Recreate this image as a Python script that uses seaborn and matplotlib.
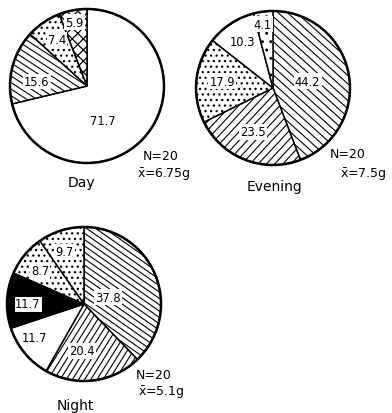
import numpy as np
import matplotlib.pyplot as plt
from matplotlib.collections import LineCollection
import seaborn as sns

# share of diet (%) per time of day, clockwise from 12 o'clock
day_vals = [71.7, 15.6, 7.4, 5.9]
day_labels = ['71.7', '15.6', '7.4', '5.9']
evening_vals = [44.2, 23.5, 17.9, 10.3, 4.1]
evening_labels = ['44.2', '23.5', '17.9', '10.3', '4.1']
night_vals = [37.8, 20.4, 11.7, 11.7, 8.7, 9.7]
night_labels = ['37.8', '20.4', '11.7', '11.7', '8.7', '9.7']

titles = ['Day', 'Evening', 'Night']
n_fish = [20, 20, 20]
mean_wt = ['6.75', '7.5', '5.1']

sns.set_style('white')
plt.rcParams['font.family'] = ['DejaVu Sans']
plt.rcParams['text.color'] = 'black'
plt.rcParams['hatch.linewidth'] = 0.9


def line_hatch(ax, wedge, angle, spacing, lw=0.8):
    # parallel lines at any angle, clipped to the wedge
    cx, cy = wedge.center
    r = wedge.r
    t = np.deg2rad(angle)
    d = np.array([np.cos(t), np.sin(t)])
    n = np.array([-d[1], d[0]])
    segs = []
    for o in np.arange(-r, r + spacing, spacing):
        p = np.array([cx, cy]) + o * n
        segs.append([p - r * d, p + r * d])
    lc = LineCollection(segs, colors='black', linewidths=lw)
    lc.set_clip_path(wedge)
    ax.add_collection(lc)


W, H = 392, 414
fig = plt.figure(figsize=(W / 100, H / 100), dpi=100)
ax = fig.add_axes([0, 0, 1, 1])

R = 77
pies = [
    dict(vals=day_vals, labels=day_labels, center=(87, 87),
         colors=['white', 'white', 'white', 'white'],
         hatch=['', '', '...', 'xxx'],
         lines=[None, (-33, 5.5), None, None],
         lab_off=[(0.21, -0.45), (-0.65, 0.06), (-0.39, 0.60), (-0.16, 0.83)],
         title_xy=(81, 183), n_xy=(161, 157), m_xy=(164, 175)),
    dict(vals=evening_vals, labels=evening_labels, center=(273, 89),
         colors=['white'] * 5,
         hatch=['', '', '...', '', '..'],
         lines=[(-42, 6.2), (47, 6.0), None, None, None],
         lab_off=[(0.45, 0.09), (-0.26, -0.57), (-0.66, 0.09), (-0.40, 0.60), (-0.13, 0.83)],
         title_xy=(275, 187), n_xy=(348, 155), m_xy=(363, 175)),
    dict(vals=night_vals, labels=night_labels, center=(84, 305),
         colors=['white', 'white', 'white', 'black', 'white', 'white'],
         hatch=['', '', '', '', '...', '...'],
         lines=[(-35, 5.2), (58, 5.2), None, None, None, None],
         lab_off=[(0.31, 0.09), (-0.03, -0.61), (-0.64, -0.43), (-0.73, 0.0), (-0.57, 0.43), (-0.25, 0.68)],
         title_xy=(75, 406), n_xy=(154, 376), m_xy=(161, 393)),
]

for i, p in enumerate(pies):
    cx, cy = p['center'][0], H - p['center'][1]
    wedges, _ = ax.pie(p['vals'], colors=p['colors'], hatch=p['hatch'], startangle=90,
                       counterclock=False, center=(cx, cy), radius=R,
                       wedgeprops=dict(edgecolor='black', linewidth=1.1))
    for w, ln in zip(wedges, p['lines']):
        if ln is not None:
            line_hatch(ax, w, ln[0], ln[1])
    ax.add_patch(plt.Circle((cx, cy), R, fill=False, lw=1.8, ec='black'))
    for lab, (dx, dy), col in zip(p['labels'], p['lab_off'], p['colors']):
        box = dict(boxstyle='square,pad=0.1', fc='white', ec='black', lw=0.8) if col == 'black' \
            else dict(boxstyle='square,pad=0.1', fc='white', ec='none')
        ax.text(cx + dx * R, cy + dy * R, lab, ha='center', va='center',
                fontsize=8.3, bbox=box, zorder=5)
    tx, ty = p['title_xy']
    ax.text(tx, H - ty, titles[i], ha='center', va='center', fontsize=10)
    nx, ny = p['n_xy']
    ax.text(nx, H - ny, f'N={n_fish[i]}', ha='center', va='center', fontsize=9)
    mx, my = p['m_xy']
    ax.text(mx, H - my, r'$\bar{\mathrm{x}}$' + f'={mean_wt[i]}g', ha='center',
            va='center', fontsize=9)

ax.set_xlim(0, W)
ax.set_ylim(0, H)
ax.set_aspect('equal')
ax.axis('off')
fig.savefig('out.png', dpi=100, facecolor='white')
